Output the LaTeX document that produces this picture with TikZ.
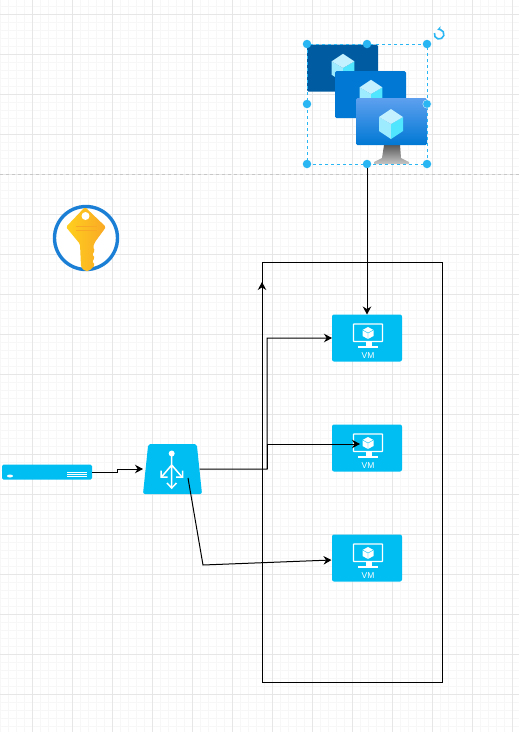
\documentclass[tikz,border=0pt]{standalone}
\usepackage{fontspec}
\setmainfont{Liberation Sans}
\usetikzlibrary{arrows.meta,shapes.geometric}
\definecolor{azure}{HTML}{00BEF2}
\definecolor{handle}{HTML}{29B6F2}
\definecolor{minorgrid}{HTML}{F7F7F7}
\definecolor{majorgrid}{HTML}{E6E6E6}
\definecolor{ringblue}{HTML}{1B7FD6}
\definecolor{keygold}{HTML}{FFD01E}
\definecolor{keyorange}{HTML}{F9A825}
\definecolor{vmdark}{HTML}{005BA1}
\definecolor{vmmid}{HTML}{0078D4}
\definecolor{vmlight}{HTML}{5EA0EF}
\definecolor{cubetop}{HTML}{C3F1FF}
\definecolor{cubeleft}{HTML}{9CEBFF}
\definecolor{cuberight}{HTML}{50E6FF}
\tikzset{
  cube/.pic={
    \fill[cubeleft] (0,0) -- (-12,-7) -- (-12,7) -- (0,15) -- cycle;
    \fill[cuberight] (0,0) -- (12,-7) -- (12,7) -- (0,15) -- cycle;
    \fill[cubetop] (0,0) -- (-12,-7) -- (0,-15) -- (12,-7) -- cycle;
  },
  vmicon/.pic={
    \draw[white,line width=1.2pt,rounded corners=.5pt] (-13.5,-14) rectangle (15.5,3.5);
    \fill[white] (-1.5,3.5) rectangle (4.5,8.5);
    \fill[white] (-9,8.2) rectangle (11,9.8);
    \fill[white] (1,-5) ++(0,-6) -- ++(5.5,3) -- ++(0,6) -- ++(-5.5,3) -- ++(-5.5,-3) -- ++(0,-6) -- cycle;
    \draw[azure,line width=.4pt] (-4.5,-8) -- (1,-5) -- (6.5,-8) (1,-5) -- (1,1);
    \node[vmlabel] (-text) at (1,18) {VM};
  }
}
\begin{document}
\begin{tikzpicture}[x=1pt,y=-1pt,
  vmbox/.style={fill=azure,rounded corners=2pt,minimum width=70pt,minimum height=47pt,inner sep=0pt,outer sep=0pt},
  vmlabel/.style={text=white,font=\fontsize{8.5}{9}\selectfont,inner sep=0pt},
  screen/.style={rounded corners=1.5pt,minimum width=71pt,minimum height=47pt,inner sep=0pt},
  grip/.style={circle,fill=handle,minimum size=8.5pt,inner sep=0pt},
  conn/.style={black,line width=1pt,-{Stealth[length=8pt,width=8.5pt]}}]
\useasboundingbox (0,0) rectangle (519,732);
\fill[white] (0,0) rectangle (519,732);
\begin{scope}[shift={(32,14)}]
\draw[minorgrid,line width=.8pt,step=8pt] (-32,-14) grid (487,718);
\draw[majorgrid,line width=1pt,step=40pt] (-32,-14) grid (487,718);
\end{scope}
\draw[black!22,dashed,line width=.8pt] (0,174) -- (519,174);

\node[screen,fill=vmdark] (vmback) at (342.5,68) {};
\pic[scale=.95] at (343,68) {cube};
\node[screen,fill=vmmid] (vmmiddle) at (370.5,94.5) {};
\pic[scale=.95] at (371,94) {cube};
\shade[top color=black!65,bottom color=black!22] (384,145) -- (400,145) -- (401,158) -- (409,162) -- (409,164) -- (374,164) -- (374,162) -- (382,158) -- cycle;
\node[screen,top color=vmlight,bottom color=vmmid] (vmfront) at (391.5,121.5) {};
\pic at (391,124) {cube};

\draw[handle,dashed,line width=.8pt] (307,44) rectangle (427,164);
\node[grip] (gripnw) at (307,44) {};
\node[grip] (gripn) at (367,44) {};
\node[grip] (gripne) at (427,44) {};
\node[grip] (gripw) at (307,104) {};
\node[grip,draw=white,line width=.3pt] (gripe) at (427,104) {};
\node[grip] (gripsw) at (307,164) {};
\node[grip] (grips) at (367,164) {};
\node[grip] (gripse) at (427,164) {};
\draw[handle,line width=1.6pt,-{Stealth[length=4pt,width=4.5pt]}] (434.5,33) arc (195:-110:4.8);

\draw[ringblue,line width=3.4pt,fill=white] (86,238) circle (31.5);
\shade[left color=keygold,right color=keyorange,rounded corners=1.5pt] (85,207) -- (106,227) -- (95,242) -- (93,247) -- (95,251) -- (92,254) -- (95,258) -- (92,261) -- (95,265) -- (89,271) -- (85,271) -- (81,267) -- (80,244) -- (66,227) -- cycle;
\fill[white] (85.5,216) circle (4);
\fill[keyorange] (76,225.5) rectangle (97,227);
\fill[keyorange] (76,229.5) rectangle (97,231);

\node[fill=azure,rounded corners=1.5pt,minimum width=90pt,minimum height=15pt,inner sep=0pt] (router) at (47,472) {};
\fill[white] (10,476) ellipse (3 and 1.5);
\draw[white,line width=.7pt] (67,472) -- (87,472) (67,474.4) -- (87,474.4) (67,476.8) -- (87,476.8);

\node[trapezium,trapezium stretches=true,trapezium angle=84,fill=azure,rounded corners=2pt,minimum width=59pt,minimum height=50pt,inner sep=1pt] (balancer) at (172.5,469) {\phantom{X}};
\fill[white] (171.7,453.5) circle (3);
\draw[white,line width=1.5pt] (171.7,455) -- (171.7,487) (171.7,465) -- (161.5,477) (171.7,465) -- (182,477);
\draw[white,line width=1.5pt] (167,483) -- (171.7,488) -- (176.5,483) (161,470.5) -- (161,477) -- (167.5,477) (182.5,470.5) -- (182.5,477) -- (176,477);

\node[draw=black,line width=1pt,minimum width=180pt,minimum height=420pt,inner sep=0pt,outer sep=0pt] (subnet) at (352,472) {};

\node[vmbox] (vmA) at (367,338) {};
\pic (vmA) at (367,338) {vmicon};
\node[vmbox] (vmB) at (367,448) {};
\pic (vmB) at (367,448) {vmicon};
\node[vmbox] (vmC) at (367,558) {};
\pic (vmC) at (367,558) {vmicon};

\coordinate (elbow) at (267,469);
\coordinate (bendC) at (203,565);
\coordinate (startC) at (188,478);
\coordinate (tipB) at (360,444);
\coordinate (tipC) at (331.5,560);
\coordinate (tipnet) at (262,282);
\coordinate (bendR) at (117,472);
\coordinate (tipR) at (143,469);

\draw[conn] (grips) -- (vmA.north);
\draw[conn] (router.east) -- (bendR) |- (tipR);
\draw[conn] (balancer.east) -- (elbow) |- (vmA.west);
\draw[conn] (elbow) |- (tipB);
\draw[conn] (startC) -- (bendC) -- (tipC);
\draw[conn] (subnet.south west) -- (tipnet);
\end{tikzpicture}
\end{document}
